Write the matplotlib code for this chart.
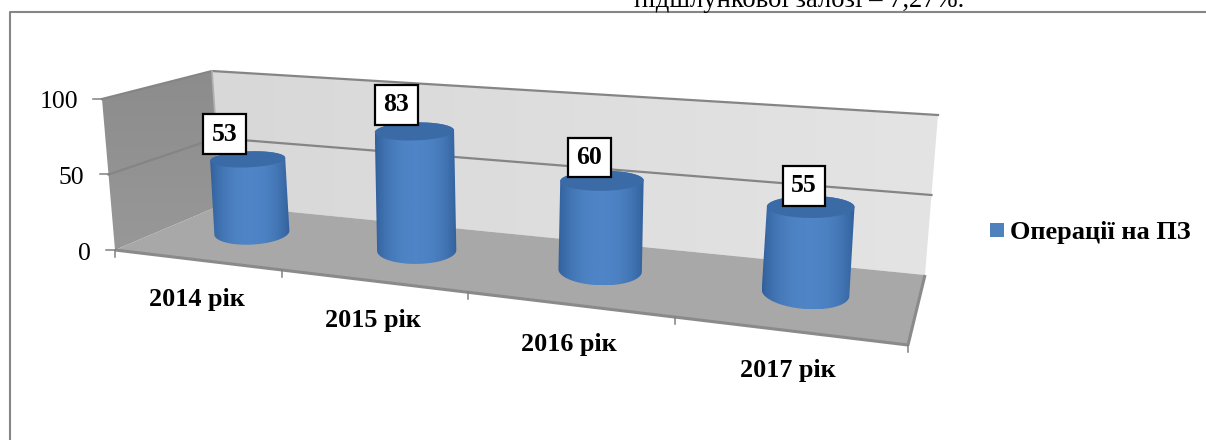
import numpy as np
import matplotlib
matplotlib.use('Agg')
import matplotlib.pyplot as plt
from matplotlib.colors import LinearSegmentedColormap
from matplotlib.patches import Polygon, Rectangle

# дані
roky = ['2014 рік', '2015 рік', '2016 рік', '2017 рік']
operacii = [53, 83, 60, 55]
y_ticks = [0, 50, 100]
legenda = 'Операції на ПЗ'

plt.rcParams['font.family'] = ['Liberation Serif', 'DejaVu Serif']

# кути "коробки" у пікселях: перед-ліво, перед-право, зад-ліво, зад-право
pidloga_k = np.array([(115, 250), (908, 345), (221, 205), (925, 275)], float)
verh_k = np.array([(102, 99), (922, 170), (212, 71), (938, 115)], float)
C_X = 0.2466  # перспектива вздовж категорій
K_D = 0.75    # перспектива вглиб
VYS_CYL = 0.96  # циліндри трохи нижчі за стіну в тому ж масштабі


def proj_u(u, d, v):
    u, d, v = np.broadcast_arrays(np.asarray(u, float), np.asarray(d, float), np.asarray(v, float))
    s = d / (d + K_D * (1 - d))
    res = []
    for k in (pidloga_k, verh_k):
        front = k[0] + (k[1] - k[0]) * u[..., None]
        back = k[2] + (k[3] - k[2]) * u[..., None]
        res.append(front + (back - front) * s[..., None])
    return res[0] + (res[1] - res[0]) * (v[..., None] / 100)


def x_u(x):
    x = np.asarray(x, float)
    return x / (4 + C_X * (4 - x))


def proj(x, d, v):
    return proj_u(x_u(x), d, v)


fig = plt.figure(figsize=(12.06, 4.4), dpi=100)
ax = fig.add_axes([0, 0, 1, 1])


def gradient(kolo, c1, c2, g, z=1):
    # заливка градієнтом, обрізана по полігону
    cm = LinearSegmentedColormap.from_list('g', [c1, c2])
    xs, ys = kolo[:, 0], kolo[:, 1]
    im = ax.imshow(g, cmap=cm, vmin=0, vmax=1, aspect='auto', zorder=z,
                   extent=[xs.min(), xs.max(), ys.max(), ys.min()])
    im.set_clip_path(Polygon(kolo, transform=ax.transData))


def elips(centr, a, b, nahyl, t):
    # еліпс основи циліндра у пікселях
    return np.column_stack([centr[0] + a * np.cos(t), centr[1] + b * np.sin(t) + nahyl * a * np.cos(t)])


# стіни та підлога
zadnya = proj([0, 4, 4, 0], [1, 1, 1, 1], [100, 100, 0, 0])
liva = proj([0, 0, 0, 0], [0, 1, 1, 0], [100, 100, 0, 0])
pidloga = proj([0, 4, 4, 0], [0, 0, 1, 1], [0, 0, 0, 0])
gradient(zadnya, '#d8d8d8', '#e4e4e4', np.linspace(0, 1, 256).reshape(1, -1))
gradient(liva, '#8c8c8c', '#989898', np.linspace(0, 1, 256).reshape(-1, 1))
ax.add_patch(Polygon(pidloga, fc='#a8a8a8', ec='none', zorder=2))

# лінії сітки
for v in y_ticks[1:]:
    p = proj([0, 0, 4], [0, 1, 1], [v, v, v])
    ax.plot(p[:, 0], p[:, 1], color='#858585', lw=1.6, zorder=3)
p = proj([0, 4, 4], [0, 0, 1], [0, 0, 0])
ax.plot(p[:, 0], p[:, 1], color='#8a8a8a', lw=2.2, zorder=3, solid_capstyle='butt')
p = proj([0, 0], [1, 1], [0, 100])
ax.plot(p[:, 0], p[:, 1], color='#b0b0b0', lw=1.2, zorder=3)

# поділки і підписи осі Y
for v in y_ticks:
    x0, y0 = proj(0, 0, v)
    ax.plot([x0 - 9, x0], [y0, y0], color='#808080', lw=1.1, zorder=3)
    ax.text(x0 - 24, y0 + 1, str(v), ha='right', va='center_baseline', fontsize=18.5, color='black')

# поділки осі X
for i in range(len(roky) + 1):
    x0, y0 = proj(i, 0, 0)
    ax.plot([x0, x0], [y0, y0 + 7], color='#808080', lw=1.1, zorder=3)

# циліндри
temny = '#305e99'
svitly = '#4f85c7'
kryshka = '#3a6ba6'
kuty_t = np.linspace(0, 2 * np.pi, 241)
profil = (1 - np.linspace(-1, 1, 256) ** 2).reshape(1, -1) ** 0.8

for i, znach in enumerate(operacii):
    cx = i + 0.5
    a = 37.5 + 2.1 * i
    niz = elips(proj(cx, 0.5, 0), a, 12 + 1.4 * i, -0.05 + 0.04 * i, kuty_t)
    verh = elips(proj(cx, 0.5, znach * VYS_CYL), a, 8 + i, -0.04 + 0.015 * i, kuty_t)
    # контур: верхня половина верхнього еліпса + нижня половина нижнього
    kontur = np.vstack([verh[120:], niz[:121]])
    gradient(kontur, temny, svitly, profil, z=4)
    ax.add_patch(Polygon(verh, fc=kryshka, ec='none', zorder=5))

    # підпис значення
    tx, ty = proj(cx, 0.28, znach)
    ax.text(tx, ty - 31, str(znach), ha='center', va='center', fontsize=18.5, fontweight='bold',
            zorder=6, bbox=dict(fc='white', ec='black', lw=1.6, boxstyle='square,pad=0.33'))

    # підпис категорії
    lx, ly = proj(cx, 0, 0)
    ax.text(lx, ly + 40, roky[i], ha='center', va='center', fontsize=18.8, fontweight='bold')

# легенда
ax.add_patch(Rectangle((990, 223), 14, 14, fc='#4f81bd', ec='none'))
ax.text(1010, 233, legenda, ha='left', va='center', fontsize=18.9, fontweight='bold')

# рамка діаграми і обрізаний рядок тексту зверху
ax.plot([10, 10, 1206], [440, 12.5, 12.5], color='#868686', lw=1.5)
ax.text(634, 7, 'підшлункової залозі – 7,27%.', ha='left', va='baseline', fontsize=19.2)

ax.set_xlim(0, 1206)
ax.set_ylim(440, 0)
ax.axis('off')
fig.savefig('out.png', dpi=100)
